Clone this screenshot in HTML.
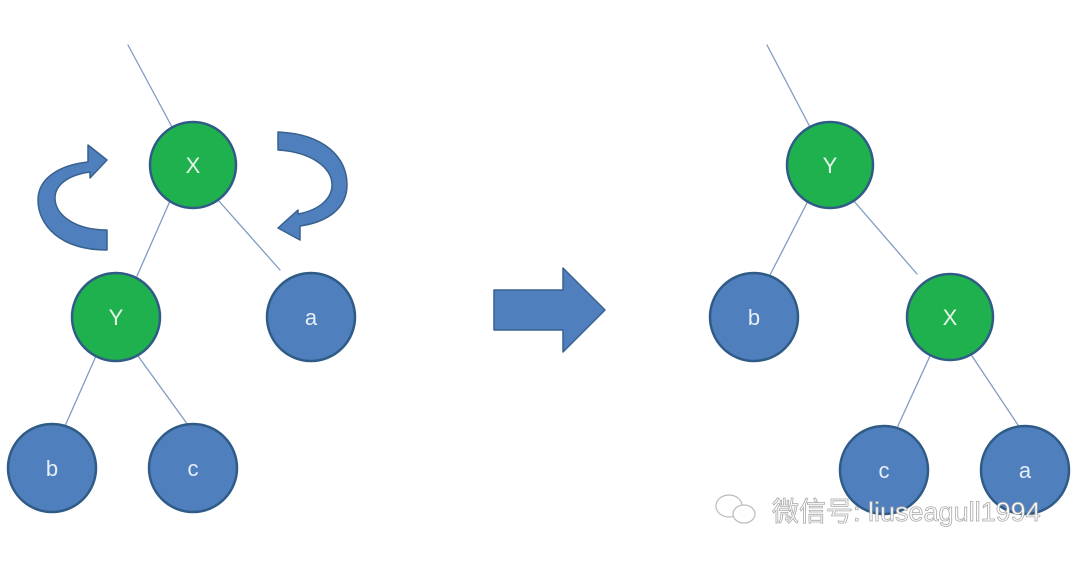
<!DOCTYPE html>
<html><head><meta charset="utf-8"><style>
html,body{margin:0;padding:0;background:#fff;}
svg{display:block}
text{font-family:"Liberation Sans","Noto Sans CJK SC",sans-serif;}
</style></head><body>
<svg width="1080" height="562" viewBox="0 0 1080 562">
<g stroke="#7f9cc0" stroke-width="1.3" stroke-linecap="round">
<line x1="128" y1="45" x2="172" y2="127"/>
<line x1="170" y1="201" x2="137" y2="276"/>
<line x1="218" y1="200" x2="280" y2="270"/>
<line x1="96" y1="356" x2="65" y2="426"/>
<line x1="138" y1="356" x2="188" y2="425"/>
<line x1="767" y1="45" x2="810" y2="127"/>
<line x1="808" y1="201" x2="770" y2="275"/>
<line x1="853" y1="200" x2="917" y2="274"/>
<line x1="930" y1="356" x2="897" y2="428"/>
<line x1="972" y1="356" x2="1020" y2="428"/>
</g>
<g stroke="#2f5b86" stroke-width="2.5" font-size="22" text-anchor="middle">
<g><circle cx="193" cy="165" r="43" fill="#1fb14d"/><text x="193" y="173" fill="#e8f5e8" stroke="none">X</text></g>
<g><circle cx="116" cy="317" r="44" fill="#1fb14d"/><text x="116" y="325" fill="#e8f5e8" stroke="none">Y</text></g>
<g><circle cx="311" cy="317" r="44" fill="#4f7fbd"/><text x="311" y="325" fill="#e8eef8" stroke="none">a</text></g>
<g><circle cx="52" cy="468" r="44" fill="#4f7fbd"/><text x="52" y="476" fill="#e8eef8" stroke="none">b</text></g>
<g><circle cx="193" cy="468" r="44" fill="#4f7fbd"/><text x="193" y="476" fill="#e8eef8" stroke="none">c</text></g>
<g><circle cx="830" cy="165" r="43" fill="#1fb14d"/><text x="830" y="173" fill="#e8f5e8" stroke="none">Y</text></g>
<g><circle cx="754" cy="317" r="44" fill="#4f7fbd"/><text x="754" y="325" fill="#e8eef8" stroke="none">b</text></g>
<g><circle cx="950" cy="317" r="43" fill="#1fb14d"/><text x="950" y="325" fill="#e8f5e8" stroke="none">X</text></g>
<g><circle cx="884" cy="470" r="44" fill="#4f7fbd"/><text x="884" y="478" fill="#e8eef8" stroke="none">c</text></g>
<g><circle cx="1025" cy="470" r="44" fill="#4f7fbd"/><text x="1025" y="478" fill="#e8eef8" stroke="none">a</text></g>
</g>
<g fill="#4f7fbd" stroke="#38618f" stroke-width="1.5" stroke-linejoin="round">
<path d="M107,250 C60,250 38,225 38,200 C38,178 60,165 88,162 L88,145 L107,160 L90,178 L90,172 C68,175 55,185 55,198 C55,215 75,230 107,230 Z"/>
<path d="M278,132 C325,134 347,158 347,185 C347,208 328,222 300,226 L300,240 L278,228 L298,210 L298,214 C320,210 332,198 332,185 C332,168 312,152 278,150 Z"/>
<path d="M494,290 L563,290 L563,268 L605,310 L563,352 L563,330 L494,330 Z"/>
</g>
<g fill="#fff" stroke="#bbb" stroke-width="1.2">
<ellipse cx="729" cy="506" rx="13" ry="11"/>
<ellipse cx="744" cy="514" rx="11" ry="9"/>
<text x="772" y="521" font-size="27" fill="#fff" stroke="#aaa" stroke-width="0.8" text-anchor="start">微信号: liuseagull1994</text>
</g>
</svg>
</body></html>
